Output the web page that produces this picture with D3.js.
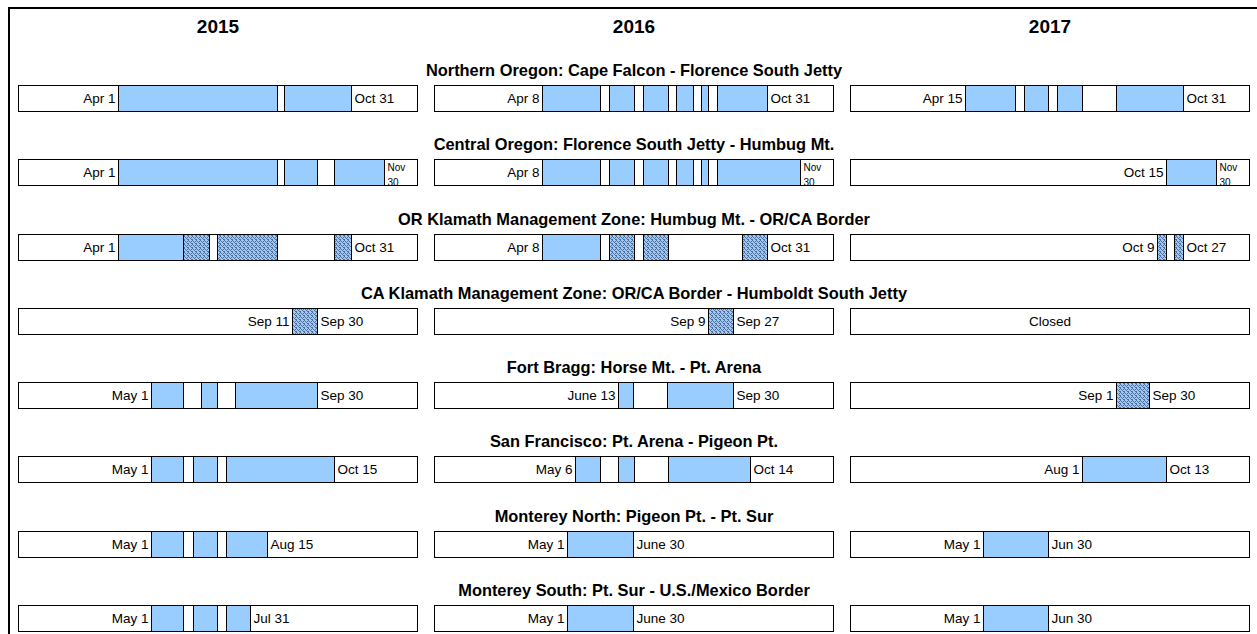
<!DOCTYPE html>
<html>
<head>
<meta charset="utf-8">
<script src="https://cdn.jsdelivr.net/npm/d3@7"></script>
<style>
  body { margin: 0; background: #fff; }
  svg text { font-family: "Liberation Sans", Arial, sans-serif; fill: #000; }
</style>
</head>
<body>
<div id="chart"></div>
<script>
const years = [2015, 2016, 2017];

const zones = [
  'Northern Oregon: Cape Falcon - Florence South Jetty',
  'Central Oregon: Florence South Jetty - Humbug Mt.',
  'OR Klamath Management Zone: Humbug Mt. - OR/CA Border',
  'CA Klamath Management Zone: OR/CA Border - Humboldt South Jetty',
  'Fort Bragg: Horse Mt. - Pt. Arena',
  'San Francisco: Pt. Arena - Pigeon Pt.',
  'Monterey North: Pigeon Pt. - Pt. Sur',
  'Monterey South: Pt. Sur - U.S./Mexico Border'
];

// season pieces per zone: [from, to, kind]  o = open, h = hatched (restricted)
const seasons2015 = [
  [['04-01', '08-24', 'o'], ['08-31', '10-31', 'o']],
  [['04-01', '08-24', 'o'], ['08-31', '09-30', 'o'], ['10-15', '11-30', 'o']],
  [['04-01', '05-31', 'o'], ['05-31', '06-23', 'h'], ['07-01', '08-24', 'h'], ['10-15', '10-31', 'h']],
  [['09-07', '09-30', 'h']],
  [['05-01', '05-31', 'o'], ['06-16', '07-01', 'o'], ['07-17', '09-30', 'o']],
  [['05-01', '05-31', 'o'], ['06-09', '07-01', 'o'], ['07-09', '10-15', 'o']],
  [['05-01', '05-31', 'o'], ['06-09', '07-01', 'o'], ['07-09', '08-15', 'o']],
  [['05-01', '05-31', 'o'], ['06-09', '07-01', 'o'], ['07-09', '07-31', 'o']]
];
const seasons2016 = [
  [['04-08', '05-31', 'o'], ['06-08', '07-01', 'o'], ['07-09', '08-01', 'o'], ['08-08', '08-24', 'o'], ['08-31', '09-07', 'o'], ['09-15', '10-31', 'o']],
  [['04-08', '05-31', 'o'], ['06-08', '07-01', 'o'], ['07-09', '08-01', 'o'], ['08-08', '08-24', 'o'], ['08-31', '09-07', 'o'], ['09-15', '11-30', 'o']],
  [['04-08', '05-31', 'o'], ['06-08', '07-01', 'h'], ['07-09', '08-01', 'h'], ['10-08', '10-31', 'h']],
  [['09-07', '09-30', 'h']],
  [['06-16', '06-30', 'o'], ['07-31', '09-30', 'o']],
  [['05-08', '05-31', 'o'], ['06-16', '07-01', 'o'], ['08-01', '10-15', 'o']],
  [['05-01', '06-30', 'o']],
  [['05-01', '06-30', 'o']]
];
const seasons2017 = [
  [['04-15', '05-31', 'o'], ['06-08', '06-30', 'o'], ['07-08', '07-31', 'o'], ['08-31', '10-31', 'o']],
  [['10-15', '11-30', 'o']],
  [['10-07', '10-15', 'h'], ['10-23', '10-31', 'h']],
  [],
  [['08-31', '09-30', 'h']],
  [['07-31', '10-15', 'o']],
  [['05-01', '06-30', 'o']],
  [['05-01', '06-30', 'o']]
];

// start / end labels written on each bar
const labels2015 = [['Apr 1', 'Oct 31'], ['Apr 1', 'Nov\n30'], ['Apr 1', 'Oct 31'], ['Sep 11', 'Sep 30'],
  ['May 1', 'Sep 30'], ['May 1', 'Oct 15'], ['May 1', 'Aug 15'], ['May 1', 'Jul 31']];
const labels2016 = [['Apr 8', 'Oct 31'], ['Apr 8', 'Nov\n30'], ['Apr 8', 'Oct 31'], ['Sep 9', 'Sep 27'],
  ['June 13', 'Sep 30'], ['May 6', 'Oct 14'], ['May 1', 'June 30'], ['May 1', 'June 30']];
const labels2017 = [['Apr 15', 'Oct 31'], ['Oct 15', 'Nov\n30'], ['Oct 9', 'Oct 27'], ['Closed'],
  ['Sep 1', 'Sep 30'], ['Aug 1', 'Oct 13'], ['May 1', 'Jun 30'], ['May 1', 'Jun 30']];

const seasonsByYear = [seasons2015, seasons2016, seasons2017];
const labelsByYear = [labels2015, labels2016, labels2017];

const width = 1257, height = 634;
const barH = 26;
const blue = '#99ccff';

const svg = d3.select('#chart').append('svg')
  .attr('width', width)
  .attr('height', height);

// fine speckled fill used for the restricted pieces
const defs = svg.append('defs');
const pat = defs.append('pattern')
  .attr('id', 'hatch')
  .attr('patternUnits', 'userSpaceOnUse')
  .attr('width', 4).attr('height', 4);
pat.append('rect').attr('width', 4).attr('height', 4).attr('fill', '#a3c9f2');
[[0, 0], [1, 1], [3, 1], [2, 2], [0, 3], [3, 3]].forEach(p => {
  pat.append('rect')
    .attr('x', p[0]).attr('y', p[1])
    .attr('width', 1).attr('height', 1)
    .attr('fill', '#4a6f9e');
});

// outer frame (runs off the page on right and bottom)
svg.append('rect')
  .attr('x', 9).attr('y', 8)
  .attr('width', 1400).attr('height', 800)
  .attr('fill', 'none').attr('stroke', '#000').attr('stroke-width', 2);

const col = d3.scaleBand()
  .domain(years)
  .range([18, 1250])
  .paddingInner(16 / 416)
  .paddingOuter(0);

const row = d3.scalePoint()
  .domain(d3.range(zones.length))
  .range([85.5, 605.5]);

// year headers
svg.selectAll('text.year')
  .data(years)
  .enter()
  .append('text')
    .attr('class', 'year')
    .attr('x', d => col(d) + col.bandwidth() / 2)
    .attr('y', 33)
    .attr('text-anchor', 'middle')
    .style('font-size', '19px')
    .style('font-weight', 'bold')
    .text(d => d);

// zone titles, centred on the middle column
svg.selectAll('text.zone')
  .data(zones)
  .enter()
  .append('text')
    .attr('class', 'zone')
    .attr('x', col(2016) + col.bandwidth() / 2)
    .attr('y', (d, i) => Math.floor(row(i)) - 9)
    .attr('text-anchor', 'middle')
    .style('font-size', '16.4px')
    .style('font-weight', 'bold')
    .text(d => d);

const parse = d3.timeParse('%Y-%m-%d');
const snap = v => Math.round(v) + 0.5;

years.forEach((year, yi) => {
  const x0 = col(year);
  const x = d3.scaleTime()
    .domain([new Date(year - 1, 11, 31), new Date(year, 11, 31)])
    .range([x0, x0 + col.bandwidth()]);

  zones.forEach((z, zi) => {
    const top = Math.floor(row(zi)) + 0.5;
    const g = svg.append('g').attr('class', 'bar');
    const pieces = seasonsByYear[yi][zi].map(p => ({
      x1: snap(x(parse(`${year}-${p[0]}`))),
      x2: snap(x(parse(`${year}-${p[1]}`))),
      kind: p[2]
    }));
    const lab = labelsByYear[yi][zi];

    g.append('rect')
      .attr('x', snap(x0)).attr('y', top)
      .attr('width', col.bandwidth() - 1).attr('height', barH)
      .attr('fill', '#fff');

    g.selectAll('rect.piece')
      .data(pieces)
      .enter()
      .append('rect')
        .attr('class', 'piece')
        .attr('x', d => d.x1)
        .attr('y', top)
        .attr('width', d => d.x2 - d.x1)
        .attr('height', barH)
        .attr('fill', d => d.kind === 'h' ? 'url(#hatch)' : blue)
        .attr('stroke', '#000')
        .attr('stroke-width', 1);

    const midY = top + barH / 2;
    if (pieces.length === 0) {
      g.append('text')
        .attr('x', x0 + col.bandwidth() / 2)
        .attr('y', midY)
        .attr('dy', '0.35em')
        .attr('text-anchor', 'middle')
        .style('font-size', '13.5px')
        .text(lab[0]);
    } else {
      g.append('text')
        .attr('x', pieces[0].x1 - 3)
        .attr('y', midY)
        .attr('dy', '0.35em')
        .attr('text-anchor', 'end')
        .style('font-size', '13.5px')
        .text(lab[0]);

      const endX = pieces[pieces.length - 1].x2 + 3;
      if (lab[1].includes('\n')) {
        const parts = lab[1].split('\n');
        const t = g.append('text')
          .attr('x', endX)
          .style('font-size', '10px');
        t.selectAll('tspan')
          .data(parts)
          .enter()
          .append('tspan')
            .attr('x', endX)
            .attr('y', (d, i) => top + (i === 0 ? 11 : 26.5))
            .text(d => d);
      } else {
        g.append('text')
          .attr('x', endX)
          .attr('y', midY)
          .attr('dy', '0.35em')
          .style('font-size', '13.5px')
          .text(lab[1]);
      }
    }

    g.append('rect')
      .attr('x', snap(x0)).attr('y', top)
      .attr('width', col.bandwidth() - 1).attr('height', barH)
      .attr('fill', 'none')
      .attr('stroke', '#000')
      .attr('stroke-width', 1);
  });
});
</script>
</body>
</html>
